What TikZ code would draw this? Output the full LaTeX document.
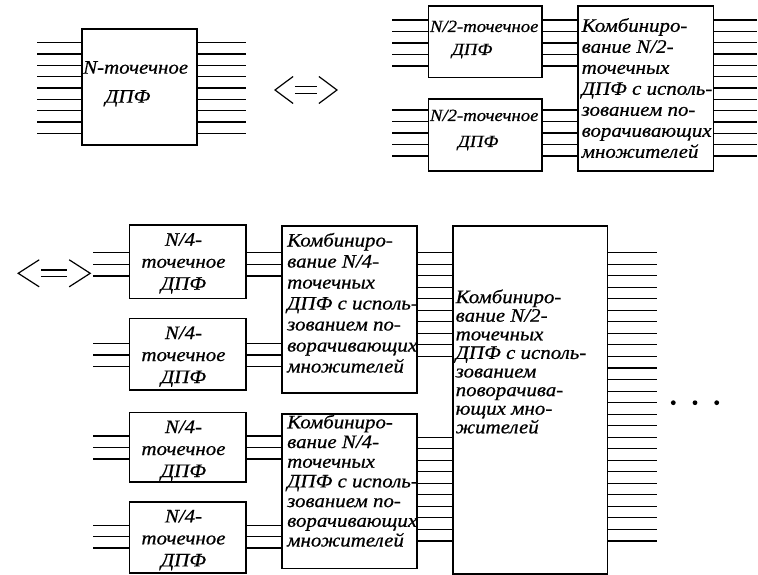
\documentclass[tikz,border=0pt]{standalone}
\usepackage{fontspec}
\newfontfamily\bookfont[FakeStretch=1.1, FakeBold=0.6]{Liberation Serif}
\usetikzlibrary{positioning}

\tikzset{
  blk/.style={draw, line width=1.6pt, inner sep=0pt, outer sep=0pt},
  wire/.style={line width=1.1pt},
  lbl/.style={inner sep=0pt, anchor=north west, align=left,
    font=\bookfont\itshape\fontsize{19}{21}\selectfont},
  lblc/.style={lbl, anchor=north, align=center},
  dot/.style={circle, fill, inner sep=0pt, minimum size=4.8pt},
  eqv/.pic={
    \draw[line width=1.2pt] (-15,-13.5) -- (-36,0) -- (-15,13.5);
    \draw[line width=1.2pt] (15,-13.5) -- (36,0) -- (15,13.5);
    \draw[line width=1.2pt] (-13,-3.3) -- (13,-3.3) (-13,3.3) -- (13,3.3);
  }
}

\begin{document}
\begin{tikzpicture}[x=1pt, y=-1pt]
  \useasboundingbox (0,0) rectangle (758,575);

  % N-point DFT
  \node[blk, minimum width=115pt, minimum height=115.7pt] (dft) at (139.2,87.15) {};
  \node[lbl] (dftT) at (83,61) {N-точечное\\[8pt]\hspace*{22pt}ДПФ};
  \foreach \i in {0,...,8} {
    \pgfmathsetmacro\yy{42.7+11.33*\i}
    \draw[wire] (dft.west |- 0,\yy) -- ++(-45,0);
    \draw[wire] (dft.east |- 0,\yy) -- ++(49,0);
  }

  \pic (eqA) [xscale=0.86] at (306,90) {eqv};

  % two N/2-point DFTs
  \node[blk, minimum width=113.7pt, minimum height=71.7pt] (hA) at (485.15,41.85) {};
  \node[blk, minimum width=113.7pt, minimum height=72pt] (hB) at (485.15,135) {};
  \node[blk, minimum width=135.6pt, minimum height=165pt] (combH) at (645.5,88.5) {};
  \node[lbl, font=\bookfont\itshape\fontsize{17}{21}\selectfont] (hAT) at (429.8,20.5)
    {N/2-точечное\\[2pt]\hspace*{22pt}ДПФ};
  \node[lbl, font=\bookfont\itshape\fontsize{17}{21}\selectfont] (hBT) at (429.8,109.5)
    {N/2-точечное\\[5pt]\hspace*{28pt}ДПФ};
  \node[lbl] (combHT) at (581.5,18) {Комбиниро-\\вание N/2-\\точечных\\ДПФ с исполь-\\зованием по-\\ворачивающих\\множителей};

  \foreach \y in {20,31.5,43,54.5,66} {
    \draw[wire] (hA.west |- 0,\y) -- ++(-36.6,0);
    \draw[wire] (hA.east |- 0,\y) -- (combH.west |- 0,\y);
  }
  \foreach \y in {110,121.5,133,144.5,156} {
    \draw[wire] (hB.west |- 0,\y) -- ++(-36.6,0);
    \draw[wire] (hB.east |- 0,\y) -- (combH.west |- 0,\y);
  }
  \foreach \i in {0,...,12} {
    \pgfmathsetmacro\yy{20+11.33*\i}
    \draw[wire] (combH.east |- 0,\yy) -- ++(44,0);
  }

  % four N/4-point DFTs
  \pic (eqB) at (54.2,273.3) {eqv};
  \node[blk, minimum width=116.4pt, minimum height=73.3pt] (q1) at (187.5,261.65) {};
  \node[blk, minimum width=116.4pt, minimum height=71.7pt] (q2) at (187.5,354.15) {};
  \node[blk, minimum width=116.4pt, minimum height=69.4pt] (q3) at (187.5,447) {};
  \node[blk, minimum width=116.4pt, minimum height=71pt] (q4) at (187.5,537.2) {};
  \foreach \n in {1,...,4}
    \node[lblc, font=\bookfont\itshape\fontsize{19}{22}\selectfont,
          below=8pt of q\n.north, xshift=-4pt] (q\n T) {N/4-\\точечное\\ДПФ};

  \node[blk, minimum width=135pt, minimum height=166.7pt] (cA) at (349.2,309.35) {};
  \node[blk, minimum width=135pt, minimum height=154.3pt] (cB) at (349.2,491.15) {};
  \node[lbl] (cAT) at (287,232.7) {Комбиниро-\\вание N/4-\\точечных\\ДПФ с исполь-\\зованием по-\\ворачивающих\\множителей};
  \node[lbl, font=\bookfont\itshape\fontsize{19}{19.7}\selectfont] (cBT) at (287,414.5)
    {Комбиниро-\\вание N/4-\\точечных\\ДПФ с исполь-\\зованием по-\\ворачивающих\\множителей};

  \node[blk, minimum width=154.6pt, minimum height=348pt] (big) at (530,400) {};
  \node[lbl, font=\bookfont\itshape\fontsize{19}{18.6}\selectfont] (bigT) at (455.5,289.3)
    {Комбиниро-\\вание N/2-\\точечных\\ДПФ с исполь-\\зованием\\поворачива-\\ющих мно-\\жителей};

  \foreach \q/\c/\ys in {q1/cA/{252.7,264.3,276}, q2/cA/{343.5,355,366.7},
                         q3/cB/{436,447.5,459}, q4/cB/{525.5,536.5,548}} {
    \foreach \y in \ys {
      \draw[wire] (\q.west |- 0,\y) -- ++(-36,0);
      \draw[wire] (\q.east |- 0,\y) -- (\c.west |- 0,\y);
    }
  }
  \foreach \i in {0,...,9} {
    \pgfmathsetmacro\ya{252.7+11.53*\i}
    \pgfmathsetmacro\yb{437.2+11.53*\i}
    \draw[wire] (cA.east |- 0,\ya) -- (big.west |- 0,\ya);
    \draw[wire] (cB.east |- 0,\yb) -- (big.west |- 0,\yb);
  }
  \foreach \i in {0,...,25} {
    \pgfmathsetmacro\yy{252.7+11.53*\i}
    \draw[wire] (big.east |- 0,\yy) -- ++(50,0);
  }

  % continuation
  \foreach \x [count=\k] in {673.3,695,716.7}
    \node[dot] (dot\k) at (\x,402.7) {};
\end{tikzpicture}
\end{document}
